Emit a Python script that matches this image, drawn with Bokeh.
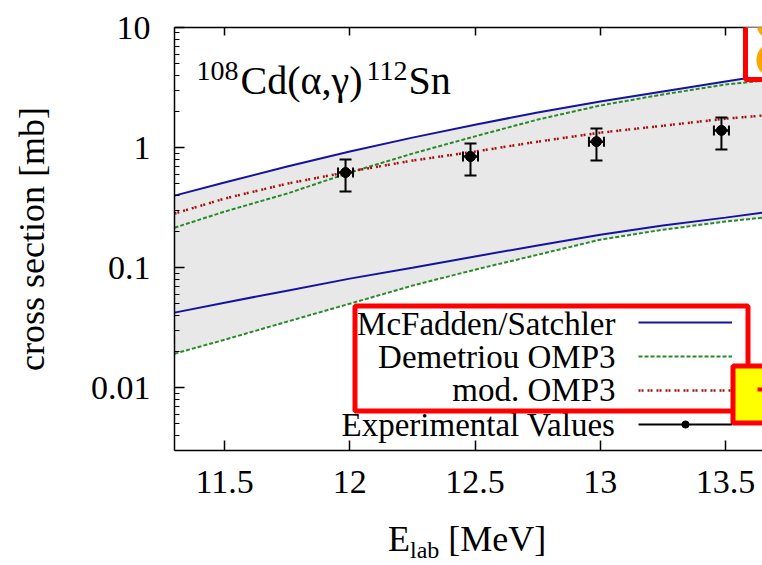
from bokeh.plotting import figure
from bokeh.layouts import column
from bokeh.models import (Range1d, LinearAxis, LogAxis, FixedTicker, CustomJSTickFormatter,
                          Whisker, TeeHead, ColumnDataSource, Legend, LegendItem, Label,
                          BoxAnnotation, Div)
from bokeh.embed import file_html
from bokeh.resources import INLINE

# ---------------- data ----------------
energy_grid = [11.30, 11.50, 11.75, 12.00, 12.25, 12.50, 12.75, 13.00, 13.25, 13.50, 13.65]
mcfadden_upper = [0.398, 0.511, 0.695, 0.926, 1.21, 1.55, 1.96, 2.42, 2.93, 3.55, 3.98]
mcfadden_lower = [0.0422, 0.0511, 0.0643, 0.081, 0.100, 0.124, 0.153, 0.188, 0.224, 0.261, 0.287]
demetriou_upper = [0.215, 0.293, 0.414, 0.619, 0.891, 1.24, 1.71, 2.24, 2.77, 3.35, 3.61]
demetriou_lower = [0.0192, 0.0251, 0.0355, 0.0501, 0.0708, 0.0962, 0.128, 0.171, 0.207, 0.242, 0.261]
mod_omp3 = [0.282, 0.376, 0.501, 0.631, 0.779, 0.926, 1.12, 1.33, 1.52, 1.74, 1.85]

exp_energy = [11.983, 12.482, 12.985, 13.484]
exp_energy_err = [0.03, 0.03, 0.03, 0.03]
exp_sigma = [0.619, 0.841, 1.12, 1.39]
exp_sigma_low = [0.430, 0.584, 0.779, 0.962]
exp_sigma_high = [0.794, 1.08, 1.44, 1.78]

x_ticks = [11.5, 12.0, 12.5, 13.0, 13.5]
y_ticks = [0.01, 0.1, 1, 10]
legend_labels = ["McFadden/Satchler", "Demetriou OMP3", "mod. OMP3", "Experimental Values"]

FONT = "Liberation Serif"
BLUE = "#1414a0"
GREEN = "#2a8a2a"
RED = "#a80f0f"

p = figure(width=762, height=522, output_backend="svg", toolbar_location=None,
           x_range=Range1d(11.3, 13.648), y_range=Range1d(0.003, 10),
           y_axis_type="log", x_axis_location=None, y_axis_location=None,
           min_border_left=174, min_border_right=0, min_border_top=27, min_border_bottom=72)
p.grid.visible = False
p.outline_line_color = None
p.background_fill_color = "white"
p.border_fill_color = "white"

fmt = CustomJSTickFormatter(code="return String(parseFloat(tick.toPrecision(6)));")
blank_fmt = CustomJSTickFormatter(code="return '';")
minor_y = [m * 10.0 ** e for e in range(-3, 1) for m in range(2, 10)]


def style_axis(ax, label_size="34px"):
    ax.axis_line_color = "black"
    ax.axis_line_width = 1.5
    ax.major_tick_in = 10
    ax.major_tick_out = 0
    ax.minor_tick_in = 5
    ax.minor_tick_out = 0
    ax.major_tick_line_width = 1.5
    ax.minor_tick_line_width = 1.2
    ax.major_label_text_font = FONT
    ax.major_label_text_font_size = label_size
    ax.major_label_text_color = "black"


xb = LinearAxis(ticker=FixedTicker(ticks=x_ticks), formatter=fmt)
style_axis(xb)
xb.major_label_standoff = 20
p.add_layout(xb, "below")

xa = LinearAxis(ticker=FixedTicker(ticks=x_ticks), formatter=blank_fmt)
style_axis(xa, "10px")
xa.major_tick_in = 8
xa.major_label_standoff = 0
p.add_layout(xa, "above")

yl = LogAxis(ticker=FixedTicker(ticks=y_ticks, minor_ticks=minor_y), formatter=fmt)
style_axis(yl)
yl.major_label_standoff = 24
yl.axis_label = "cross section [mb]"
yl.axis_label_text_font = FONT
yl.axis_label_text_font_style = "normal"
yl.axis_label_text_font_size = "36px"
yl.axis_label_text_color = "black"
yl.axis_label_standoff = 36
p.add_layout(yl, "left")

# shaded envelope
p.varea(x=energy_grid, y1=demetriou_lower, y2=mcfadden_upper, fill_color="#e8e8e8")

r_bu = p.line(energy_grid, mcfadden_upper, line_color=BLUE, line_width=2)
p.line(energy_grid, mcfadden_lower, line_color=BLUE, line_width=2)
r_gu = p.line(energy_grid, demetriou_upper, line_color=GREEN, line_width=2, line_dash="4 2")
p.line(energy_grid, demetriou_lower, line_color=GREEN, line_width=2, line_dash="4 2")
r_red = p.line(energy_grid, mod_omp3, line_color=RED, line_width=2.5, line_dash="2 1 2 4")

src = ColumnDataSource(dict(
    x=exp_energy, y=exp_sigma, lo=exp_sigma_low, hi=exp_sigma_high,
    xl=[e - d for e, d in zip(exp_energy, exp_energy_err)],
    xh=[e + d for e, d in zip(exp_energy, exp_energy_err)],
))
r_seg = p.segment(x0="xl", y0="y", x1="xh", y1="y", source=src, line_color="black", line_width=2)
r_pts = p.scatter("x", "y", source=src, size=10, color="black")
wy = Whisker(source=src, base="x", lower="lo", upper="hi", dimension="height",
             line_width=2, line_color="black", level="annotation",
             upper_head=TeeHead(size=12, line_width=2), lower_head=TeeHead(size=12, line_width=2))
wx = Whisker(source=src, base="y", lower="xl", upper="xh", dimension="width",
             line_width=2, line_color="black", level="annotation",
             upper_head=TeeHead(size=10, line_width=2), lower_head=TeeHead(size=10, line_width=2))
p.add_layout(wy)
p.add_layout(wx)

legend = Legend(items=[LegendItem(label="", renderers=[r_bu]),
                       LegendItem(label="", renderers=[r_gu]),
                       LegendItem(label="", renderers=[r_red]),
                       LegendItem(label="", renderers=[r_seg, r_pts])],
                location=(464, 17), glyph_width=94, glyph_height=18, spacing=16, padding=0,
                margin=0, label_standoff=0, label_width=0, label_height=0,
                label_text_font_size="10px", border_line_color=None, background_fill_alpha=0)
p.add_layout(legend)


def clabel(text, x, y, size, align="left"):
    p.add_layout(Label(x=x, y=y, x_units="canvas", y_units="canvas", text=text,
                       text_font=FONT, text_font_size=size, text_color="black",
                       text_align=align, text_baseline="middle", level="overlay"))


# legend texts (right aligned, gnuplot style)
for txt, yc in zip(legend_labels, [323, 356, 389, 424]):
    clabel(txt, 615, yc, "33px", "right")

# title with superscripts
clabel("108", 196, 70, "28px")
clabel("Cd(\u03b1,\u03b3)", 240, 80, "40px")
clabel("112", 366, 70, "28px")
clabel("Sn", 408, 80, "40px")


def cbox(l, r, t, b, **kw):
    p.add_layout(BoxAnnotation(left=l, right=r, top=t, bottom=b,
                               left_units="canvas", right_units="canvas",
                               top_units="canvas", bottom_units="canvas",
                               level="overlay", **kw))


# overlay marks present in the reference picture
cbox(-10, 800, -10, 5, fill_color="black", fill_alpha=1, line_alpha=0)
cbox(745, 800, -10, 79, fill_color="white", fill_alpha=1, line_color="#ff0000", line_width=5, line_alpha=1)
cbox(756, 790, 5, 40, fill_color="#ffa500", fill_alpha=1, line_alpha=0, border_radius=17)
cbox(756, 790, 42, 77, fill_color="#ffa500", fill_alpha=1, line_alpha=0, border_radius=17)
cbox(354.5, 747.5, 305.5, 410.5, fill_alpha=0, line_color="#ff0000", line_width=5, line_alpha=1)
cbox(732.5, 800, 365.5, 422.5, fill_color="#ffff00", fill_alpha=1, line_color="#ff0000", line_width=5, line_alpha=1)
cbox(757, 800, 387, 391, fill_color="#ff0000", fill_alpha=1, line_alpha=0)

# x axis label E_lab [MeV] (with a real subscript)
xlabel = Div(
    text=("<div style=\"font-family:'Liberation Serif';font-size:36px;line-height:34px;"
          "color:black;padding-left:388px;white-space:nowrap;margin:0\">"
          "E<span style=\"font-size:24px;position:relative;top:7px\">lab</span>"
          "&nbsp;[MeV]</div>"),
    width=762, height=43, margin=0)

layout = column(p, xlabel, spacing=0)
open("out.html", "w").write(file_html(layout, INLINE))
